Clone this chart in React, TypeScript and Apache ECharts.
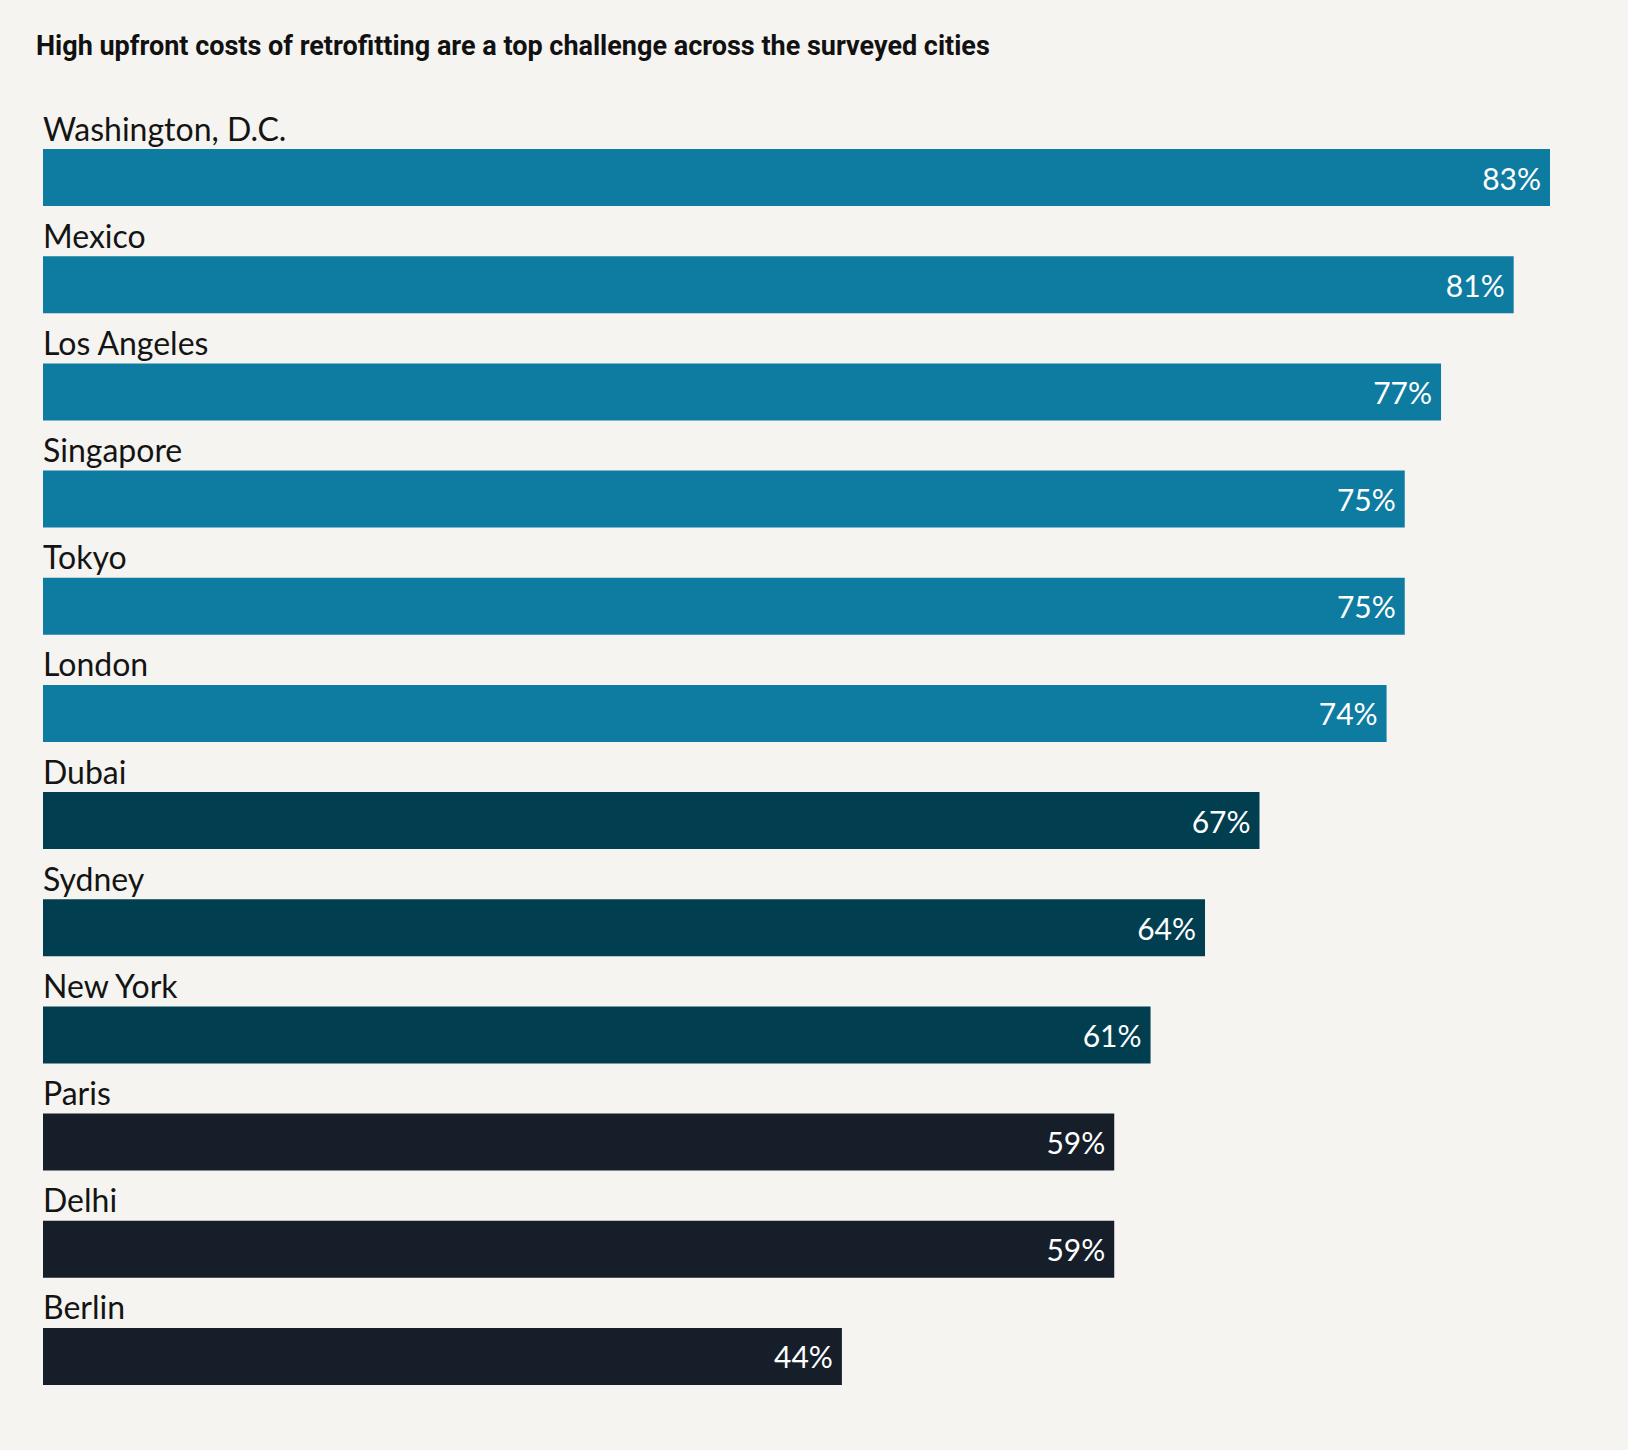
import React, { useEffect, useRef } from "react";
import * as echarts from "echarts";

const titleText = "High upfront costs of retrofitting are a top challenge across the surveyed cities";
const cities = [
  "Washington, D.C.",
  "Mexico",
  "Los Angeles",
  "Singapore",
  "Tokyo",
  "London",
  "Dubai",
  "Sydney",
  "New York",
  "Paris",
  "Delhi",
  "Berlin",
];
const values = [83, 81, 77, 75, 75, 74, 67, 64, 61, 59, 59, 44];
const tiers = [0, 0, 0, 0, 0, 0, 1, 1, 1, 2, 2, 2];
const palette = ["#0E7BA1", "#003E50", "#151E29"];

export default function App() {
  const ref = useRef<HTMLDivElement>(null);
  useEffect(() => {
    if (!ref.current) return;
    const chart = echarts.init(ref.current, null, { renderer: "svg" });
    chart.setOption({
      animation: false,
      backgroundColor: "#F5F4F0",
      title: {
        text: titleText,
        left: 36,
        top: 32,
        padding: 0,
        textStyle: {
          fontFamily: "Roboto, sans-serif",
          fontWeight: "bold",
          fontSize: 27,
          lineHeight: 27,
          color: "#111111",
        },
      },
      grid: { left: 43, right: 78, top: 124, bottom: 40, containLabel: false },
      xAxis: {
        type: "value",
        min: 0,
        max: 83,
        show: false,
      },
      yAxis: {
        type: "category",
        data: cities,
        inverse: true,
        show: false,
      },
      series: [
        {
          type: "bar",
          data: values.map((v, i) => ({ value: v, itemStyle: { color: palette[tiers[i]] } })),
          barWidth: 57,
          silent: true,
          label: {
            show: true,
            position: "insideRight",
            distance: 9,
            formatter: "{c}%",
            color: "#FFFFFF",
            fontFamily: "Lato, sans-serif",
            fontSize: 30,
          },
        },
        {
          type: "bar",
          data: values,
          barWidth: 57,
          barGap: "-100%",
          silent: true,
          itemStyle: { color: "rgba(0,0,0,0)" },
          label: {
            show: true,
            position: [0, -5],
            align: "left",
            verticalAlign: "bottom",
            formatter: "{b}",
            color: "#141414",
            fontFamily: "Lato, sans-serif",
            fontSize: 32,
            lineHeight: 32,
          },
        },
      ],
    });
    return () => chart.dispose();
  }, []);
  return (
    <div
      ref={ref}
      style={{ position: "absolute", left: 0, top: 0, width: 1628, height: 1450 }}
    />
  );
}
